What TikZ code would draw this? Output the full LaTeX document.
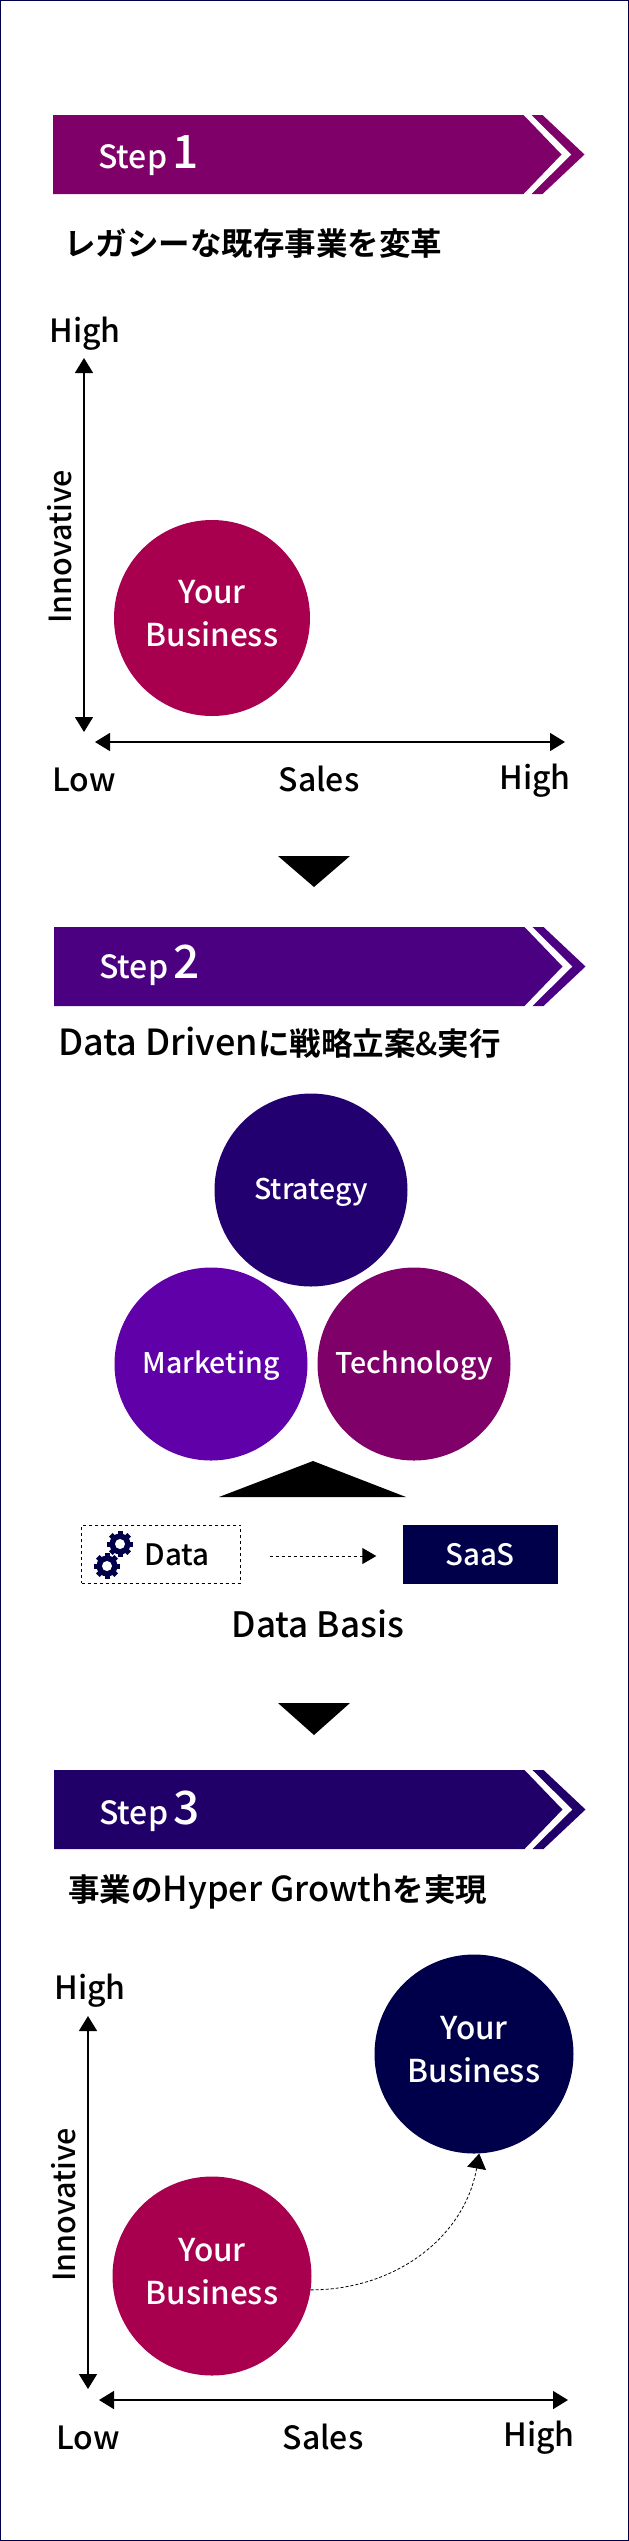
\documentclass[tikz,border=0pt]{standalone}
\usepackage{fontspec}
\setmainfont{Noto Sans CJK JP Medium}
\newfontfamily\heavyfont{Noto Sans CJK JP Bold}
\usetikzlibrary{arrows.meta}
\definecolor{plum}{HTML}{7F0068}
\definecolor{violet}{HTML}{5F00A8}
\definecolor{indigo}{HTML}{220070}
\definecolor{navy}{HTML}{00004A}
\definecolor{crimson}{HTML}{A8004F}
\definecolor{bluepurple}{HTML}{4B0082}
\definecolor{deepblue}{HTML}{200068}
\newcommand{\gearicon}[2]{
  \foreach \a in {0,45,...,135}{
    \fill [navy,rotate around={\a:(#1,#2)}] (#1-2.5,#2-13) rectangle (#1+2.5,#2+13);
  }
  \fill [navy] (#1,#2) circle (10.5);
  \fill [white] (#1,#2) circle (5);
}
\newcommand{\latin}[2][34.5]{{\normalfont\fontsize{#1}{#1}\selectfont #2}}
\begin{document}
\begin{tikzpicture}[x=1pt,y=-1pt,
  label/.style={font=\fontsize{32}{32}\selectfont,inner sep=0pt,anchor=base},
  sideways/.style={font=\fontsize{30.5}{30.5}\selectfont,inner sep=0pt,rotate=90},
  title/.style={font=\heavyfont\fontsize{31.5}{31.5}\selectfont,inner sep=0pt,anchor=base west},
  small/.style={font=\fontsize{29.5}{29.5}\selectfont},
  whitesmall/.style={small,text=white},
  steptext/.style={font=\fontsize{32}{32}\selectfont,text=white,inner sep=0pt,anchor=base west},
  bubble/.style={circle,inner sep=0pt,text=white,align=center,font=\fontsize{31.5}{43}\selectfont,text depth=10pt},
  ball/.style={circle,inner sep=0pt,minimum size=193pt,text=white,font=\fontsize{28.5}{28.5}\selectfont,text height=22pt,text depth=4pt},
  axis/.style={line width=1.5pt,{Triangle[length=15pt,width=18pt]}-{Triangle[length=15pt,width=18pt]}},
  mark tri/.style={fill=black}]
\useasboundingbox (0,0) rectangle (629,2541);
\draw [navy,line width=2pt] (0,0) rectangle (629,2541);

\foreach \yb/\xb/\colb/\ys/\num in {115/53/plum/53/1,927/54/bluepurple/51/2,1770/54/deepblue/54/3}{
  \fill [\colb] (\xb,\yb) -- (\xb+470.5,\yb) -- (\xb+508.5,\yb+39.5) -- (\xb+470.5,\yb+79) -- (\xb,\yb+79) -- cycle;
  \fill [\colb] (\xb+478.5,\yb) -- (\xb+489.5,\yb) -- (\xb+531.5,\yb+39.5) -- (\xb+489.5,\yb+79) -- (\xb+478.5,\yb+79) -- (\xb+518.5,\yb+39.5) -- cycle;
  \node [steptext] (step\num) at (\xb+45,\yb+\ys) {Step\,{\fontsize{46}{46}\selectfont\num}};
}

\node [title] (title1) at (64,255) {レガシーな既存事業を変革};
\node [title] (title2) at (58,1055) {\latin[36]{Data Driven}に戦略立案\latin[31.5]{\&}実行};
\node [title] (title3) at (68,1901) {事業の\latin{Hyper Growth}を実現};

\node [label] (high1) at (85,342) {High};
\node [sideways] (inno1) at (60,547) {Innovative};
\node [label] (low1) at (84,791) {Low};
\node [label] (sales1) at (319,791) {Sales};
\node [label] (right1) at (535,789) {High};
\coordinate (vtop1) at (84,358);
\coordinate (vbot1) at (84,732);
\coordinate (hleft1) at (95,742);
\coordinate (hright1) at (565,742);
\draw [axis] (vtop1) -- (vbot1);
\draw [axis] (hleft1) -- (hright1);
\node [bubble,fill=crimson,minimum size=196pt] (biz1) at (212,618) {Your\\Business};

\fill [mark tri] (278,856) -- (350,856) -- (314,887) -- cycle;

\node [ball,fill=indigo] (strategy) at (311,1190) {Strategy};
\node [ball,fill=violet] (marketing) at (211,1364) {Marketing};
\node [ball,fill=plum] (technology) at (414,1364) {Technology};
\fill [mark tri] (219,1497) -- (313,1461) -- (406,1497) -- cycle;

\node [draw,dashed,line width=1pt,minimum width=159pt,minimum height=58pt] (databox) at (161,1554) {};
\gearicon{120}{1544}
\gearicon{107}{1566}
\node [label,small] (data) at (177,1565) {Data};
\node [fill=navy,inner sep=0pt,minimum width=155pt,minimum height=59pt] (saasbox) at (480,1554) {};
\node [label,whitesmall] (saas) at (480,1565) {SaaS};
\draw [dashed,line width=1pt,shorten <=29pt,shorten >=26pt,-{Triangle[length=14pt,width=16pt]}] ([yshift=-2pt]databox.east) -- ([yshift=-2pt]saasbox.west);
\node [label,font=\fontsize{35}{35}\selectfont] (basis) at (318,1637) {Data Basis};

\fill [mark tri] (278,1703) -- (350,1703) -- (314,1735) -- cycle;

\node [label] (high3) at (90,1999) {High};
\node [sideways] (inno3) at (64,2205) {Innovative};
\node [label] (low3) at (88,2449) {Low};
\node [label] (sales3) at (323,2449) {Sales};
\node [label] (right3) at (539,2446) {High};
\coordinate (vtop3) at (88,2016);
\coordinate (vbot3) at (88,2389);
\coordinate (hleft3) at (99,2400);
\coordinate (hright3) at (568,2400);
\draw [axis] (vtop3) -- (vbot3);
\draw [axis] (hleft3) -- (hright3);
\node [bubble,fill=crimson,minimum size=199pt] (bizlow) at (212,2276) {Your\\Business};
\node [bubble,fill=navy,minimum size=199pt] (bizhigh) at (474,2054) {Your\\Business};
\draw [densely dashed,line width=.8pt,-{Triangle[length=15pt,width=19pt]}] (bizlow.-8) to [out=0,in=-100] (bizhigh.-87);
\end{tikzpicture}
\end{document}
